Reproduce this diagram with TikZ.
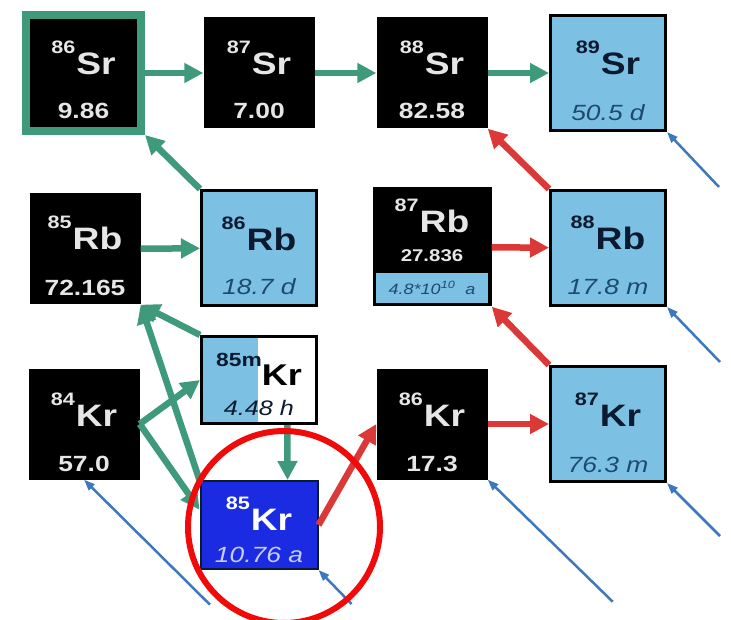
\documentclass[tikz,border=0pt]{standalone}
\usepackage{fontspec}
\newfontfamily\isofont[FakeStretch=1.2]{Liberation Sans}
\usetikzlibrary{arrows.meta,calc}
\definecolor{cCapture}{HTML}{3E9A7A}
\definecolor{cBeta}{HTML}{DC3838}
\definecolor{cFlux}{HTML}{3C78BE}
\definecolor{cLite}{HTML}{7CC0E4}
\definecolor{cKr}{HTML}{1A2BE2}
\definecolor{cInk}{HTML}{0B1A2E}
\definecolor{cNavy}{HTML}{1E4A6E}
\definecolor{cPale}{HTML}{E6E6E6}
\definecolor{cLav}{HTML}{C8CCFF}
\definecolor{cRing}{HTML}{F00A0A}
\newcommand{\nuc}[2]{\raisebox{21pt}{\fontsize{18pt}{18pt}\selectfont #1}\kern1pt{\fontsize{31pt}{31pt}\selectfont #2}}
\tikzset{
  stable/.style={fill=black, minimum width=111pt, minimum height=111pt, inner sep=0pt},
  unstable/.style={fill=cLite, draw=black, line width=3pt, minimum width=115pt,
                   minimum height=115pt, inner sep=0pt},
  band/.style={fill=cLite, draw=black, line width=1.2pt, minimum width=113pt,
               minimum height=32pt, inner sep=0pt},
  sym/.style={anchor=base, inner sep=0pt, text=cPale, font=\isofont\bfseries},
  symDk/.style={sym, text=cInk},
  val/.style={anchor=base, inner sep=0pt, text=cPale,
              font=\isofont\bfseries\fontsize{22pt}{22pt}\selectfont},
  valDk/.style={val, text=cNavy, font=\isofont\itshape\fontsize{22pt}{22pt}\selectfont},
  capture/.style={-{Triangle[length=19pt,width=19pt]}, line width=6.5pt, cCapture},
  beta/.style={capture, cBeta},
  flux/.style={-{Triangle[length=11pt,width=8pt]}, line width=2.5pt, cFlux},
  ring/.style={circle, draw=cRing, line width=6pt, inner sep=0pt},
}
\begin{document}
\begin{tikzpicture}[x=1pt, y=-1pt]
\useasboundingbox (0,0) rectangle (731,620);

% ---- Sr row ----
\node[stable, draw=cCapture, line width=8pt, minimum width=115pt, minimum height=116pt]
  (Sr86) at (83.5,73) {};
\node[stable] (Sr87) at (259,73) {};
\node[stable] (Sr88) at (432,73) {};
\node[unstable] (Sr89) at (608,73) {};
\node[sym] (Sr86-t) at ([yshift=-2pt]Sr86.center) {\nuc{86}{Sr}};
\node[val] (Sr86-v) at ([yshift=-46pt]Sr86.center) {9.86};
\node[sym] (Sr87-t) at ([yshift=-2pt]Sr87.center) {\nuc{87}{Sr}};
\node[val] (Sr87-v) at ([yshift=-46pt]Sr87.center) {7.00};
\node[sym] (Sr88-t) at ([yshift=-2pt]Sr88.center) {\nuc{88}{Sr}};
\node[val] (Sr88-v) at ([yshift=-46pt]Sr88.center) {82.58};
\node[symDk] (Sr89-t) at ([yshift=-2pt]Sr89.center) {\nuc{89}{Sr}};
\node[valDk] (Sr89-v) at ([yshift=-48pt]Sr89.center) {50.5 d};

% ---- Rb row ----
\node[stable] (Rb85) at (85,249) {};
\node[unstable] (Rb86) at (259,248) {};
\node[stable, minimum width=119pt, minimum height=119pt] (Rb87) at (432,247) {};
\node[band, anchor=south] (Rb87-b) at ([yshift=2pt]Rb87.south) {};
\node[unstable] (Rb88) at (608,248) {};
\node[sym] (Rb85-t) at ([yshift=-1pt]Rb85.center) {\nuc{85}{Rb}};
\node[val] (Rb85-v) at ([yshift=-47pt]Rb85.center) {72.165};
\node[symDk] (Rb86-t) at ([yshift=-3pt]Rb86.center) {\nuc{86}{Rb}};
\node[valDk] (Rb86-v) at ([yshift=-47pt]Rb86.center) {18.7 d};
\node[sym] (Rb87-t) at ([yshift=14pt]Rb87.center) {\nuc{87}{Rb}};
\node[val, font=\isofont\bfseries\fontsize{17pt}{17pt}\selectfont]
  (Rb87-v) at ([yshift=-15pt]Rb87.center) {27.836};
\node[valDk, font=\isofont\itshape\fontsize{15pt}{15pt}\selectfont]
  (Rb87-h) at ([yshift=-6pt]Rb87-b.center) {4.8*10\textsuperscript{10}\ \ a};
\node[symDk] (Rb88-t) at ([yshift=-2pt]Rb88.center) {\nuc{88}{Rb}};
\node[valDk] (Rb88-v) at ([yshift=-47pt]Rb88.center) {17.8 m};

% ---- Kr row ----
\node[stable] (Kr84) at (84,424) {};
\node[unstable, fill=white, minimum height=87pt,
      path picture={\fill[cLite] (path picture bounding box.south west) rectangle
        ($(path picture bounding box.north west)!0.49!(path picture bounding box.north east)$);}]
  (Kr85m) at (259,380) {};
\node[unstable, fill=cKr, draw=cInk, line width=2pt, minimum width=117pt, minimum height=88pt]
  (Kr85) at (259,525) {};
\node[stable] (Kr86) at (432,424) {};
\node[unstable] (Kr87) at (608,424) {};
\node[sym] (Kr84-t) at ([yshift=-2pt]Kr84.center) {\nuc{84}{Kr}};
\node[val] (Kr84-v) at ([yshift=-47pt]Kr84.center) {57.0};
\node[symDk] (Kr85m-t) at ([yshift=-5pt]Kr85m.center)
  {\raisebox{19pt}{\fontsize{19pt}{19pt}\selectfont 85m}{\color{black}\fontsize{30pt}{30pt}\selectfont Kr}};
\node[valDk, text=cInk, font=\isofont\itshape\fontsize{21pt}{21pt}\selectfont]
  (Kr85m-v) at ([yshift=-35pt]Kr85m.center) {4.48 h};
\node[sym, text=white] (Kr85-t) at ([yshift=-5pt]Kr85.center) {\nuc{85}{Kr}};
\node[valDk, text=cLav] (Kr85-v) at ([yshift=-37pt]Kr85.center) {10.76 a};
\node[sym] (Kr86-t) at ([yshift=-2pt]Kr86.center) {\nuc{86}{Kr}};
\node[val] (Kr86-v) at ([yshift=-47pt]Kr86.center) {17.3};
\node[symDk] (Kr87-t) at ([yshift=-2pt]Kr87.center) {\nuc{87}{Kr}};
\node[valDk] (Kr87-v) at ([yshift=-48pt]Kr87.center) {76.3 m};

% ---- neutron capture ----
\draw[capture] (Sr86) -- (Sr87);
\draw[capture] (Sr87) -- (Sr88);
\draw[capture] (Sr88) -- (Sr89);
\draw[capture] (Rb85) -- (Rb86);
\draw[capture] (Rb86.north west) -- (Sr86.south east);
\draw[capture] (Kr85m.north west) -- (Rb85.south east);
\draw[capture] (Kr85.north west) -- (Rb85.south east);
\draw[capture] (Kr84.east) -- (Kr85m.west);
\draw[capture] (Kr84.east) -- ($(Kr85.north west)!0.33!(Kr85.south west)$);
\draw[capture] ($(Kr85m.south west)!0.74!(Kr85m.south east)$)
  -- ($(Kr85.north west)!0.74!(Kr85.north east)$);

% ---- beta decay ----
\draw[beta] (Kr85.east) -- (Kr86.west);
\draw[beta] (Kr86) -- (Kr87);
\draw[beta] (Kr87.north west) -- (Rb87.south east);
\draw[beta] (Rb87) -- (Rb88);
\draw[beta] (Rb88.north west) -- (Sr88.south east);

% ---- fission yield ----
\foreach \n/\dx/\dy in {Sr89/52/55, Rb88/53/55, Kr87/53/53, Kr86/125/122, Kr85/33/34} {
  \coordinate (\n-in) at ([shift={(\dx,\dy)}]\n.south east);
  \draw[flux] (\n-in) -- (\n.south east);
}
\coordinate (Kr84-in) at ([shift={(126,125)}]Kr84.south);
\draw[flux] (Kr84-in) -- (Kr84.south);

\node[ring, minimum size=192pt] (halo) at (284,527) {};
\end{tikzpicture}
\end{document}
